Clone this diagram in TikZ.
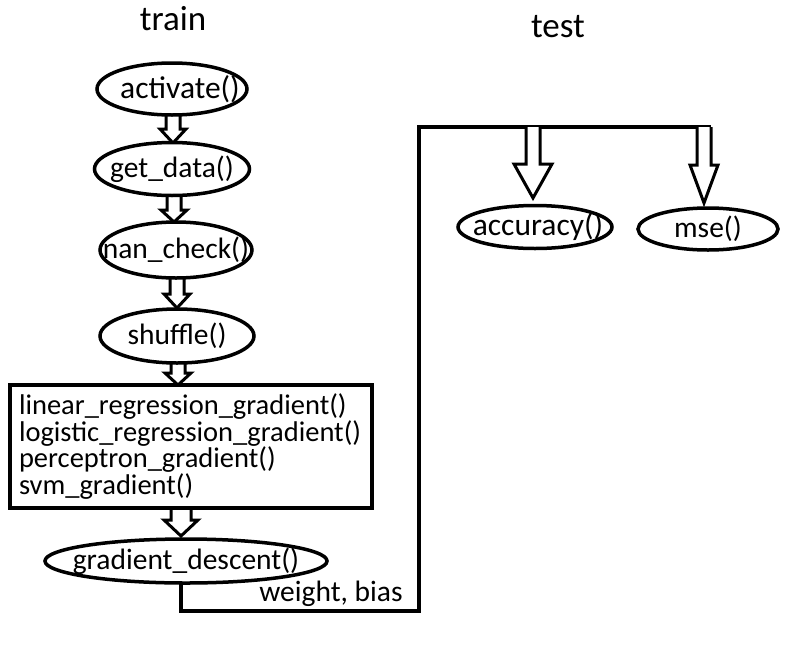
\documentclass[tikz,border=0pt]{standalone}
\usepackage{fontspec}
\setmainfont{Carlito}
\usetikzlibrary{shapes.geometric,calc}
\tikzset{
  ell/.style={ellipse, draw, fill=white, line width=3.5pt, inner sep=0pt},
  wire/.style={draw, line width=3.5pt},
  blk/.style={draw, fill=white, line width=3pt, line join=miter},
  lbl/.style={font=\fontsize{29.5}{26.5}\selectfont, inner sep=0pt},
  lblw/.style={font=\fontsize{31.5}{26.5}\selectfont, inner sep=0pt},
  ttl/.style={font=\fontsize{35}{40}\selectfont, inner sep=0pt},
}
\newcommand\blockarr[5]{%
  \draw[blk] let \p1=(#1), \p2=(#2) in
  (\x1-#3,\y1) -- (\x1-#3,\y2+#5) -- (\x1-#4,\y2+#5) -- (\x1,\y2) --
  (\x1+#4,\y2+#5) -- (\x1+#3,\y2+#5) -- (\x1+#3,\y1);}
\begin{document}
\begin{tikzpicture}[x=1pt,y=-1pt]
\useasboundingbox[fill=white] (0,0) rectangle (792,648);

% titles
\node[ttl] (ttrain) at (173,19) {train};
\node[ttl] (ttest) at (558,27) {test};

% coordinates for arrow sources
\coordinate (s1) at (173,112);
\coordinate (s2) at (174,194);
\coordinate (s3) at (177,276);
\coordinate (s4) at (178,360);
\coordinate (s5) at (181,506);
\coordinate (t1) at (173,143);
\coordinate (t2) at (174,222);
\coordinate (t3) at (177,308);
\coordinate (t4) at (178,385);
\coordinate (t5) at (181,536);

% wire
\coordinate (c1) at (419,611);
\coordinate (ctop) at (711,127);
\coordinate (ta) at (533,127);
\coordinate (tm) at (704,127);
\coordinate (ha) at (533,198);
\coordinate (hm) at (704,203);
\draw[wire] (181,584) |- (c1) |- (ctop);

% block arrows
\blockarr{s1}{t1}{7pt}{13pt}{14pt}
\blockarr{s2}{t2}{7pt}{13pt}{12pt}
\blockarr{s3}{t3}{7pt}{13pt}{14pt}
\blockarr{s4}{t4}{7pt}{13pt}{12pt}
\blockarr{s5}{t5}{10pt}{17pt}{16pt}
\blockarr{ta}{ha}{7pt}{19pt}{34pt}
\blockarr{tm}{hm}{7pt}{14pt}{38pt}

% train nodes
\node[ell, minimum width=150pt, minimum height=52pt, label={[lblw, xshift=8pt]center:activate()}] (act) at (172,89) {};
\node[ell, minimum width=155pt, minimum height=53pt, label={[lbl]center:get\_data()}] (get) at (172,169) {};
\node[ell, minimum width=152pt, minimum height=56pt, label={[lbl]center:nan\_check()}] (nan) at (176,250) {};
\node[ell, minimum width=154pt, minimum height=54pt, label={[lbl]center:shuffle()}] (shf) at (177,336) {};
\node[draw, line width=3.5pt, fill=white, rectangle, minimum width=362pt, minimum height=123pt,
      text width=344pt, inner xsep=9pt, align=left, font=\fontsize{28.5}{26.5}\selectfont] (grad) at (191,446.5)
  {linear\_regression\_gradient()\\logistic\_regression\_gradient()\\perceptron\_gradient()\\svm\_gradient()};
\node[ell, minimum width=282pt, minimum height=44pt, label={[lbl]center:gradient\_descent()}] (gd) at (186,561) {};

% test nodes
\node[ell, minimum width=154pt, minimum height=43pt, label={[lblw, xshift=3pt]center:accuracy()}] (acc) at (535,227) {};
\node[ell, minimum width=140pt, minimum height=42pt, label={[lbl]center:mse()}] (mse) at (708,229) {};

% label
\node[lbl] (wb) at (331,594) {weight, bias};
\end{tikzpicture}
\end{document}
